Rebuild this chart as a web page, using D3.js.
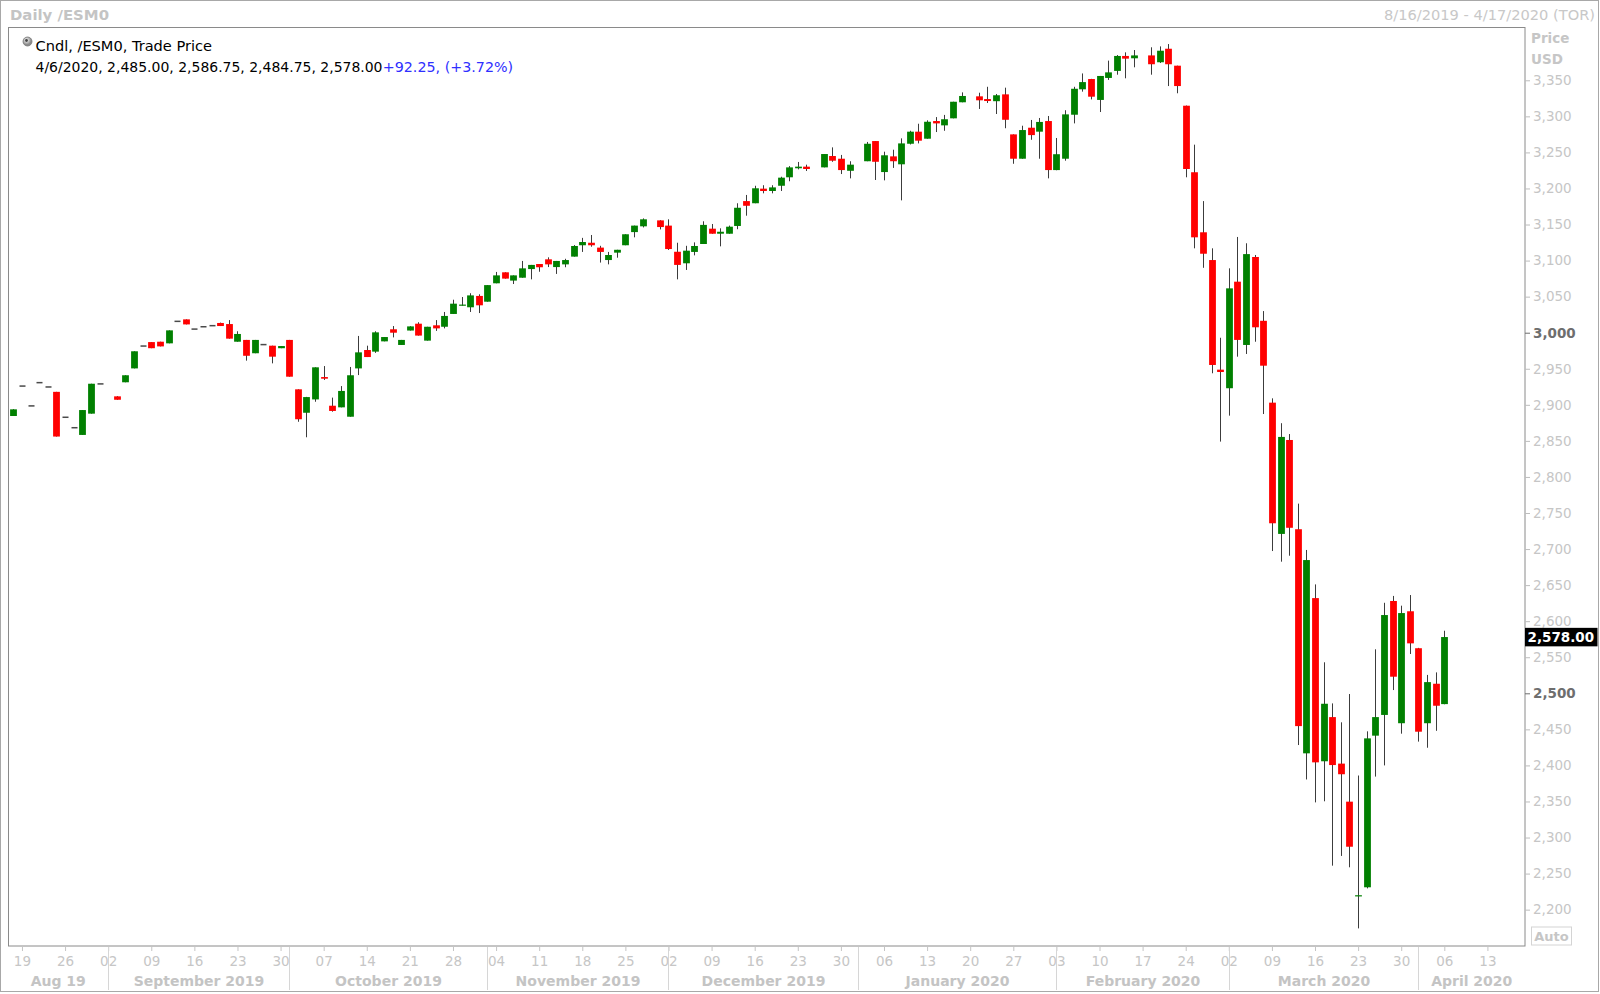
<!DOCTYPE html>
<html>
<head>
<meta charset="utf-8">
<script src="https://cdn.jsdelivr.net/npm/d3@7"></script>
<style>
html,body{margin:0;padding:0;background:#fff;}
svg{display:block;font-family:"DejaVu Sans",Verdana,sans-serif;}
</style>
</head>
<body>
<svg id="chart" width="1600" height="994"></svg>
<script>
// ---------------- data ----------------
const dates = [
"2019-08-16","2019-08-19","2019-08-20","2019-08-21","2019-08-22","2019-08-23","2019-08-26","2019-08-27","2019-08-28","2019-08-29","2019-08-30",
"2019-09-03","2019-09-04","2019-09-05","2019-09-06","2019-09-09","2019-09-10","2019-09-11","2019-09-12","2019-09-13",
"2019-09-16","2019-09-17","2019-09-18","2019-09-19","2019-09-20","2019-09-23","2019-09-24","2019-09-25","2019-09-26","2019-09-27","2019-09-30",
"2019-10-01","2019-10-02","2019-10-03","2019-10-04","2019-10-07","2019-10-08","2019-10-09","2019-10-10","2019-10-11",
"2019-10-14","2019-10-15","2019-10-16","2019-10-17","2019-10-18","2019-10-21","2019-10-22","2019-10-23","2019-10-24","2019-10-25",
"2019-10-28","2019-10-29","2019-10-30","2019-10-31",
"2019-11-01","2019-11-04","2019-11-05","2019-11-06","2019-11-07","2019-11-08","2019-11-11","2019-11-12","2019-11-13","2019-11-14","2019-11-15",
"2019-11-18","2019-11-19","2019-11-20","2019-11-21","2019-11-22","2019-11-25","2019-11-26","2019-11-27","2019-11-29",
"2019-12-02","2019-12-03","2019-12-04","2019-12-05","2019-12-06","2019-12-09","2019-12-10","2019-12-11","2019-12-12","2019-12-13",
"2019-12-16","2019-12-17","2019-12-18","2019-12-19","2019-12-20","2019-12-23","2019-12-24","2019-12-26","2019-12-27","2019-12-30","2019-12-31",
"2020-01-02","2020-01-03","2020-01-06","2020-01-07","2020-01-08","2020-01-09","2020-01-10","2020-01-13","2020-01-14","2020-01-15","2020-01-16","2020-01-17",
"2020-01-21","2020-01-22","2020-01-23","2020-01-24","2020-01-27","2020-01-28","2020-01-29","2020-01-30","2020-01-31",
"2020-02-03","2020-02-04","2020-02-05","2020-02-06","2020-02-07","2020-02-10","2020-02-11","2020-02-12","2020-02-13","2020-02-14",
"2020-02-18","2020-02-19","2020-02-20","2020-02-21","2020-02-24","2020-02-25","2020-02-26","2020-02-27","2020-02-28",
"2020-03-02","2020-03-03","2020-03-04","2020-03-05","2020-03-06","2020-03-09","2020-03-10","2020-03-11","2020-03-12","2020-03-13",
"2020-03-16","2020-03-17","2020-03-18","2020-03-19","2020-03-20","2020-03-23","2020-03-24","2020-03-25","2020-03-26","2020-03-27",
"2020-03-30","2020-03-31","2020-04-01","2020-04-02","2020-04-03","2020-04-06"
];
const opens = [
2884.5,2926,2898.5,2930.75,2924.75,2918,2882.75,2868.25,2858.25,2887.75,2929,
2911.75,2931.25,2950.5,2981.5,2987,2987.5,2985.25,3015.75,3018.5,
3005,3008.25,3009.75,3013.5,3012,2987.5,2990,2971.5,2983.5,2982,2978.5,
2990,2921.5,2889,2907.5,2938.5,2898.75,2896.5,2883.5,2950.5,
2976,2973.75,2988,3004.75,2983,3003,3012.5,2989,3010.25,3008.25,
3026,3038,3035.25,3051,
3043,3068.5,3083.75,3072.25,3076.25,3088.25,3095.25,3101.75,3091,3094.75,3105.5,
3121.25,3124.75,3118,3100.75,3111,3121.25,3139.5,3147.5,3155.75,
3148.5,3112.25,3096.25,3112,3123,3144.25,3137.25,3137.25,3148,3182.5,
3179.5,3199.75,3196.5,3203.75,3215.5,3228,3230.25,3229.25,3245,3241.25,3224.5,
3237.75,3265.75,3222.75,3244.5,3233.5,3262,3278.75,3269,3293.5,3287.5,3297.25,3319.5,
3327.75,3324,3321,3330.5,3275,3241.25,3284.25,3278.75,3293.5,
3225.5,3241.25,3302.25,3337.5,3351.75,3322.75,3353.25,3363,3383.75,3380.5,
3384.5,3375,3393.75,3370.25,3314.75,3222.5,3139.25,3100.75,2948.75,
2923,3070.75,2983,3105,3016.5,2903,2721,2851.25,2727.5,2416.75,
2632,2405.75,2467,2402.5,2349.75,2219,2231,2441.25,2470,2628,
2458.5,2613.75,2562.5,2458.5,2513.25,2485
];
const highs = [
2894,2926,2898.5,2930.75,2924.75,2918,2882.75,2868.25,2892.75,2929.25,2929,
2912,2941,2974.25,2981.5,2987,2987.5,3003.25,3015.75,3018.5,
3005,3008.25,3009.75,3014,3017.5,3002,2990,2990,2983.5,2982,2981.5,
2990,2921.5,2911,2952,2953.75,2910,2926,2952.5,2995.5,
2982,3002,2994,3009.25,2990,3009,3014.5,3008.25,3017.5,3028.75,
3045.75,3049.5,3054.75,3053.25,
3066,3084.25,3083.75,3079.5,3099.5,3094,3095.25,3104.5,3099.5,3102.5,3121.5,
3131.5,3135.5,3120.5,3112,3115,3136.5,3148.5,3158.5,3156,
3157.25,3124.75,3120.5,3125.25,3154.5,3150.75,3144.75,3148.5,3179.5,3191,
3203.75,3204.5,3204.5,3216.25,3231,3236.75,3233,3247.75,3257,3246.5,3237.75,
3264.5,3265.75,3251,3253.75,3269.5,3280,3289.75,3294.5,3299,3302,3320.25,3333.25,
3332.75,3341,3331,3339.75,3275,3287,3295,3297.75,3300.5,
3270,3308.5,3341,3359.5,3352,3356,3377.25,3385,3388.75,3392,
3395.75,3397,3400.25,3370.25,3315,3260.75,3182.5,3117,2993,
3089.25,3132.75,3124,3107.75,3030,2909,2874.5,2859.5,2763,2698.75,
2651,2543,2486,2459.75,2499,2386,2447.25,2561,2625.5,2635,
2621.5,2636.25,2563,2525.5,2529,2586.75
];
const lows = [
2884.5,2926,2898.5,2930.75,2924.75,2856,2882.75,2868.25,2858.25,2887.75,2929,
2907,2931.25,2950.5,2981.5,2978.5,2981,2985.25,3015.75,3011.5,
3005,3008.25,3009.75,3009.25,2991.75,2987.5,2961.25,2971.5,2983.5,2957.5,2978.5,
2939,2876.5,2855,2904.25,2934.5,2890.5,2896.5,2883.5,2941.25,
2966.25,2972,2988,2993.5,2983,3003,2996,2989,3002.5,3006,
3026,3037.5,3028.75,3027.25,
3043,3068.5,3075,3067.5,3076.25,3074,3084.5,3091,3081.5,3090.75,3105.5,
3112,3119.25,3097.25,3094.75,3104,3121.25,3132.25,3146,3143.25,
3114.75,3074,3087,3107.25,3123,3137.25,3119.75,3137.25,3143.5,3162.25,
3179.5,3193.25,3193.25,3196.5,3210,3226.5,3224.25,3229.25,3237,3220,3214,
3237.75,3211.75,3211.25,3228.5,3183.5,3261,3262.5,3269,3278.25,3280,3297.25,3319.5,
3310.25,3318.5,3303.25,3283.5,3234.25,3241.25,3267.5,3241.25,3214,
3225.25,3238.5,3290.25,3334.25,3323.5,3306,3350.5,3357.75,3352.75,3368,
3357.75,3374,3342,3332,3215.5,3117,3090,2943.75,2849,
2885,2966.75,2970.5,2987.5,2887.25,2697.25,2682.5,2690.75,2428.25,2380.5,
2348.75,2350.25,2261,2274.5,2258.75,2174,2229.5,2384.5,2400,2504.5,
2444,2554.5,2433,2424.5,2448,2484.75
];
const closes = [
2893.75,2926,2898.5,2930.75,2924.75,2856,2882.75,2868.25,2892.75,2929.25,2929,
2907,2941,2974.25,2981.5,2978.5,2981,3003.25,3015.75,3011.5,
3005,3008.25,3009.75,3009.25,2991.75,2998.25,2968,2990,2983.5,2966.75,2981.5,
2939,2880,2910.75,2952,2936.25,2891.5,2919.25,2941,2972.75,
2966.25,3000.5,2994,3000,2990,3008.75,2996,3008.25,3006,3023.25,
3040.25,3039,3051.75,3038,
3066,3079.5,3075,3079.5,3089.25,3094,3090.75,3094.75,3099.5,3100.75,3120.25,
3125.75,3121.25,3112,3107.75,3115,3136.5,3148.5,3157.25,3146.5,
3116,3094,3113.75,3120.25,3149.5,3137.25,3140,3147,3173.25,3176,
3200.25,3196.5,3201.5,3215,3229.25,3230.25,3227,3247.75,3238.5,3225.5,3233,
3262,3237,3246,3237.75,3262.5,3278.75,3266.25,3292.5,3290.25,3296,3320.25,3328.25,
3322.25,3321.25,3329.25,3295.25,3241.25,3281,3274,3292.25,3225.5,
3247.5,3302.75,3338.25,3347.5,3327.25,3356,3361,3383.75,3380,3384.5,
3372.25,3391,3372.25,3342,3227,3132.25,3109.5,2955.25,2945.5,
3061.5,2990,3109,3007.5,2954.25,2735.75,2855.5,2729.5,2454.5,2684.75,
2404.25,2485.5,2400.5,2387.75,2287.25,2220,2437.5,2467,2608.5,2523,
2611.25,2569.25,2446.75,2515.5,2482.75,2578
];
const weekTickLabels = ["19","26","02","09","16","23","30","07","14","21","28","04","11","18","25","02","09","16","23","30","06","13","20","27","03","10","17","24","02","09","16","23","30","06","13"];
const monthLabels = ["Aug 19","September 2019","October 2019","November 2019","December 2019","January 2020","February 2020","March 2020","April 2020"];
const monthStarts = ["2019-08-16","2019-09-02","2019-10-01","2019-11-01","2019-12-02","2020-01-01","2020-02-03","2020-03-02","2020-04-01"];
const yTicks = [2200,2250,2300,2350,2400,2450,2500,2550,2600,2650,2700,2750,2800,2850,2900,2950,3000,3050,3100,3150,3200,3250,3300,3350];
const boldTicks = [2500,3000];
const lastClose = 2578.00;

// ---------------- layout ----------------
const svg = d3.select("#chart");
const P = {left:8, top:27.5, right:1525, bottom:946};
const parse = d3.timeParse("%Y-%m-%d");
const base = new Date(2019,7,19);
function wd(d){ const days = Math.round((d - base)/864e5); const w = Math.floor(days/7); const r = days - w*7; return w*5 + Math.min(r,5); }

const x = d3.scaleLinear().domain([-1.62, 174.36]).range([P.left, P.right]);
const y = d3.scaleLinear().domain([2149.6, 3423.2]).range([P.bottom, P.top]);

const data = dates.map((d,i)=>({i:wd(parse(d)), o:opens[i], h:highs[i], l:lows[i], c:closes[i]}));

// outer frame
svg.append("rect").attr("x",0.5).attr("y",0.5).attr("width",1598).attr("height",991)
  .attr("fill","none").attr("stroke","#a8a8a8");

// header
svg.append("text").attr("x",10).attr("y",15.5).attr("dy","0.35em")
  .attr("font-size",14).attr("font-weight","bold").attr("fill","#c4c4c4")
  .attr("textLength",99).attr("lengthAdjust","spacingAndGlyphs").text("Daily /ESM0");
svg.append("text").attr("x",1384).attr("y",15.5).attr("dy","0.35em")
  .attr("font-size",14).attr("fill","#c8c8c8")
  .attr("textLength",211).attr("lengthAdjust","spacingAndGlyphs").text("8/16/2019 - 4/17/2020 (TOR)");

// plot box
svg.append("rect").attr("x",P.left+0.5).attr("y",P.top).attr("width",P.right-P.left-0.5).attr("height",P.bottom-P.top)
  .attr("fill","#fff").attr("stroke","#8a8a8a");

// legend
const grad = svg.append("defs").append("radialGradient").attr("id","ig").attr("cx","40%").attr("cy","35%");
grad.append("stop").attr("offset","0%").attr("stop-color","#ffffff");
grad.append("stop").attr("offset","100%").attr("stop-color","#8a8a8a");
svg.append("circle").attr("cx",27.5).attr("cy",41.5).attr("r",4.5).attr("fill","url(#ig)").attr("stroke","#777").attr("stroke-width",0.8);
svg.append("circle").attr("cx",26.5).attr("cy",40.5).attr("r",1.4).attr("fill","#444");
svg.append("text").attr("x",35.5).attr("y",46).attr("dy","0.35em").attr("font-size",14).attr("fill","#000")
  .attr("textLength",176.5).attr("lengthAdjust","spacingAndGlyphs").text("Cndl, /ESM0, Trade Price");
svg.append("text").attr("x",35.5).attr("y",67.5).attr("dy","0.35em").attr("font-size",14).attr("fill","#000")
  .attr("textLength",347).attr("lengthAdjust","spacingAndGlyphs").text("4/6/2020, 2,485.00, 2,586.75, 2,484.75, 2,578.00");
svg.append("text").attr("x",382.7).attr("y",67.5).attr("dy","0.35em").attr("font-size",14).attr("fill","#2f2fff")
  .attr("textLength",130.5).attr("lengthAdjust","spacingAndGlyphs").text("+92.25, (+3.72%)");

// candles
const g = svg.append("g");
const bw = 6.8;
data.forEach(d=>{
  const cx = Math.round(x(d.i)) + 0.5;
  if (d.h !== d.l && !(d.o===d.c && d.h===d.l)) {
    g.append("line").attr("x1",cx).attr("x2",cx).attr("y1",y(d.h)).attr("y2",y(d.l))
      .attr("stroke","#3c3c3c").attr("stroke-width",1);
  }
  if (d.o === d.c) {
    g.append("rect").attr("x",cx-3).attr("width",6).attr("y",y(d.c)-0.75).attr("height",1.5).attr("fill","#4a4a4a");
  } else {
    const top = y(Math.max(d.o,d.c)), bot = y(Math.min(d.o,d.c));
    g.append("rect").attr("x",cx-bw/2).attr("width",bw).attr("y",top).attr("height",Math.max(1.2,bot-top))
      .attr("fill", d.c>d.o ? "#008000" : "#ff0000");
  }
});

// right axis
const yAxis = d3.axisRight(y).tickValues(yTicks).tickFormat(d3.format(",")).tickSize(5).tickPadding(3);
const ya = svg.append("g").attr("transform",`translate(${P.right},0)`).call(yAxis);
ya.select(".domain").remove();
ya.selectAll(".tick line").attr("stroke","#bdbdbd");
ya.selectAll(".tick text").attr("font-family","DejaVu Sans, sans-serif").attr("font-size",13.5)
  .attr("fill",d=>boldTicks.includes(d)?"#6e6e6e":"#c6c6c6")
  .attr("font-weight",d=>boldTicks.includes(d)?"bold":"normal");
ya.selectAll(".tick").filter(d=>boldTicks.includes(d)).select("line").attr("stroke","#6e6e6e");
svg.append("text").attr("x",1531).attr("y",38).attr("dy","0.35em").attr("font-size",13.5).attr("font-weight","bold").attr("fill","#c6c6c6").text("Price");
svg.append("text").attr("x",1531).attr("y",59.5).attr("dy","0.35em").attr("font-size",13.5).attr("font-weight","bold").attr("fill","#c6c6c6").text("USD");

// last price box
const ly = y(lastClose);
svg.append("rect").attr("x",P.right).attr("y",ly-9.2).attr("width",72.5).attr("height",18.5).attr("fill","#000");
svg.append("text").attr("x",P.right+2.5).attr("y",ly).attr("dy","0.36em").attr("font-size",13.5).attr("font-weight","bold")
  .attr("fill","#fff").text(d3.format(",.2f")(lastClose));

// Auto box
svg.append("rect").attr("x",1531.5).attr("y",927).attr("width",40).attr("height",18).attr("fill","#fff").attr("stroke","#d4d4d4");
svg.append("text").attr("x",1551.5).attr("y",936).attr("dy","0.36em").attr("text-anchor","middle").attr("font-size",13).attr("font-weight","bold").attr("fill","#c6c6c6").text("Auto");

// bottom axis (weekly ticks)
const weekIdx = weekTickLabels.map((_,k)=>k*5);
const xAxis = d3.axisBottom(x).tickValues(weekIdx).tickFormat((d,k)=>weekTickLabels[k]).tickSize(5).tickPadding(0);
const xa = svg.append("g").attr("transform",`translate(0,${P.bottom})`).call(xAxis);
xa.select(".domain").remove();
xa.selectAll(".tick line").attr("stroke","#c4c4c4");
xa.selectAll(".tick text").attr("y",15).attr("dy","0.35em").attr("font-family","DejaVu Sans, sans-serif")
  .attr("font-size",13.5).attr("fill","#c6c6c6");

// month separators and labels
const sepX = monthStarts.map(s=>Math.round(x(wd(parse(s))))+0.5);
sepX.slice(1).forEach(sx=>{
  svg.append("line").attr("x1",sx).attr("x2",sx).attr("y1",P.bottom+1).attr("y2",990).attr("stroke","#d6d6d6");
});
monthLabels.forEach((m,k)=>{
  const a = k===0 ? P.left : sepX[k];
  const b = k===monthLabels.length-1 ? P.right : sepX[k+1];
  svg.append("text").attr("x",(a+b)/2).attr("y",981).attr("dy","0.35em").attr("text-anchor","middle")
    .attr("font-size",14).attr("font-weight","bold").attr("fill","#c4c4c4").text(m);
});
</script>
</body>
</html>
